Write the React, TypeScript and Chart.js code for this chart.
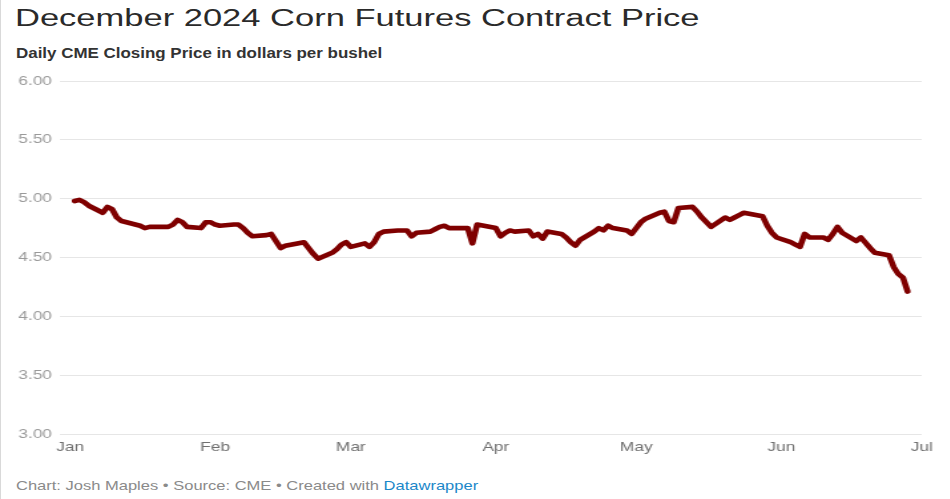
import React, { useEffect, useRef } from "react";
import { Chart, registerables } from "chart.js";

Chart.register(...registerables);

// ---- Data (December 2024 corn futures, daily CME close, $/bu) ----
const janDays = [2, 3, 4, 5, 8, 9, 10, 11, 12, 16, 17, 18, 19, 22, 23, 24, 25, 26, 29, 30, 31];
const janPrices = [4.98, 4.99, 4.97, 4.94, 4.88, 4.93, 4.91, 4.84, 4.81, 4.77, 4.75, 4.76, 4.76, 4.76, 4.78, 4.82, 4.80, 4.76, 4.75, 4.80, 4.80];

const febDays = [1, 2, 5, 6, 7, 8, 9, 12, 13, 14, 15, 16, 20, 21, 22, 23, 26, 27, 28, 29];
const febPrices = [4.78, 4.77, 4.78, 4.78, 4.75, 4.71, 4.68, 4.69, 4.70, 4.64, 4.58, 4.60, 4.63, 4.58, 4.53, 4.49, 4.54, 4.57, 4.61, 4.63];

const marDays = [1, 4, 5, 6, 7, 8, 11, 12, 13, 14, 15, 18, 19, 20, 21, 22, 25, 26, 27, 28];
const marPrices = [4.59, 4.62, 4.59, 4.63, 4.70, 4.72, 4.73, 4.73, 4.73, 4.68, 4.71, 4.72, 4.74, 4.76, 4.77, 4.75, 4.75, 4.75, 4.62, 4.78];

const aprDays = [1, 2, 3, 4, 5, 8, 9, 10, 11, 12, 15, 16, 17, 18, 19, 22, 23, 24, 25, 26, 29, 30];
const aprPrices = [4.75, 4.68, 4.71, 4.73, 4.72, 4.73, 4.68, 4.70, 4.66, 4.72, 4.70, 4.67, 4.63, 4.60, 4.65, 4.72, 4.75, 4.73, 4.77, 4.75, 4.73, 4.70];

const mayDays = [1, 2, 3, 6, 7, 8, 9, 10, 13, 14, 15, 16, 17, 20, 21, 22, 23, 24, 28, 29, 30, 31];
const mayPrices = [4.75, 4.80, 4.83, 4.88, 4.89, 4.81, 4.80, 4.92, 4.93, 4.89, 4.84, 4.80, 4.76, 4.84, 4.82, 4.84, 4.86, 4.88, 4.85, 4.77, 4.71, 4.67];

const junDays = [3, 4, 5, 6, 7, 10, 11, 12, 13, 14, 17, 18, 20, 21, 24, 25, 26, 27, 28];
const junPrices = [4.63, 4.61, 4.59, 4.70, 4.67, 4.67, 4.65, 4.70, 4.76, 4.71, 4.64, 4.67, 4.58, 4.54, 4.52, 4.42, 4.36, 4.33, 4.21];

const monthTickLabels = ["Jan", "Feb", "Mar", "Apr", "May", "Jun", "Jul"];
const monthTickMonths = [0, 1, 2, 3, 4, 5, 6];
const yTicks = [3.0, 3.5, 4.0, 4.5, 5.0, 5.5, 6.0];

const TITLE = "December 2024 Corn Futures Contract Price";
const SUBTITLE = "Daily CME Closing Price in dollars per bushel";

const DAY_MS = 86400000;
const dayOf = (month: number, day: number) =>
  (Date.UTC(2024, month, day) - Date.UTC(2024, 0, 1)) / DAY_MS;

const monthGroups: [number, number[], number[]][] = [
  [0, janDays, janPrices],
  [1, febDays, febPrices],
  [2, marDays, marPrices],
  [3, aprDays, aprPrices],
  [4, mayDays, mayPrices],
  [5, junDays, junPrices],
];

const FONT = "'Liberation Sans', Arial, Helvetica, sans-serif";
const SX = 1.33; // horizontal stretch of the chart
const CANVAS_W = 714;
const CANVAS_H = 410;

function TextLine(props: {
  left: number;
  top: number;
  size: number;
  sx: number;
  weight?: number;
  color: string;
  children: React.ReactNode;
}) {
  return (
    <div
      style={{
        position: "absolute",
        left: props.left,
        top: props.top,
        fontSize: props.size,
        lineHeight: 1,
        fontWeight: props.weight ?? 400,
        color: props.color,
        fontFamily: FONT,
        whiteSpace: "nowrap",
        transform: `scaleX(${props.sx})`,
        transformOrigin: "left top",
      }}
    >
      {props.children}
    </div>
  );
}

export default function App() {
  const canvasRef = useRef<HTMLCanvasElement | null>(null);

  useEffect(() => {
    if (!canvasRef.current) return;
    const points: { x: number; y: number }[] = [];
    monthGroups.forEach(([m, days, prices]) => {
      days.forEach((d, i) => points.push({ x: dayOf(m, d), y: prices[i] }));
    });
    const tickValues = monthTickMonths.map((m) => dayOf(m, 1));
    const xMax = dayOf(6, 1);
    const xMin = -2.14;

    const chart = new Chart(canvasRef.current, {
      type: "line",
      data: {
        datasets: [
          {
            data: points,
            borderColor: "#7f0000",
            borderWidth: 4.6,
            pointRadius: 0,
            tension: 0,
            borderJoinStyle: "round",
            borderCapStyle: "round",
            fill: false,
          },
        ],
      },
      options: {
        responsive: false,
        animation: false,
        devicePixelRatio: 1,
        layout: { padding: { top: 21, right: 21, left: 0, bottom: 0 } },
        plugins: { legend: { display: false }, tooltip: { enabled: false } },
        scales: {
          x: {
            type: "linear",
            min: xMin,
            max: xMax,
            grid: { display: false, drawTicks: false },
            border: { display: false },
            afterBuildTicks: (scale: any) => {
              scale.ticks = tickValues.map((v) => ({ value: v }));
            },
            afterFit: (scale: any) => {
              scale.height = 36;
            },
            ticks: {
              padding: 6,
              autoSkip: false,
              maxRotation: 0,
              color: "#707070",
              font: { family: FONT, size: 13 },
              callback: (v: any) => {
                const idx = tickValues.indexOf(Number(v));
                return idx >= 0 ? monthTickLabels[idx] : "";
              },
            },
          },
          y: {
            min: 3,
            max: 6,
            grid: { color: "#e6e6e6", lineWidth: 1, drawTicks: false },
            border: { display: false },
            afterBuildTicks: (scale: any) => {
              scale.ticks = yTicks.map((v) => ({ value: v }));
            },
            afterFit: (scale: any) => {
              scale.width = 45.1;
            },
            ticks: {
              padding: 6,
              color: "#9a9a9a",
              font: { family: FONT, size: 13 },
              callback: (v: any) => Number(v).toFixed(2),
            },
          },
        },
      },
    } as any);
    return () => chart.destroy();
  }, []);

  return (
    <div
      style={{
        position: "absolute",
        left: 0,
        top: 0,
        width: 950,
        height: 499,
        background: "#ffffff",
        overflow: "hidden",
      }}
    >
      <div style={{ position: "absolute", left: 0, top: 0, width: 1, height: 499, background: "#d9d9d9" }} />
      <TextLine left={15} top={7} size={23} sx={1.5} color="#2a2a2a">
        {TITLE}
      </TextLine>
      <TextLine left={16} top={45.5} size={14} sx={1.21} weight={700} color="#333333">
        {SUBTITLE}
      </TextLine>
      <div
        style={{
          position: "absolute",
          left: 0,
          top: 60,
          width: CANVAS_W,
          height: CANVAS_H,
          transform: `scaleX(${SX})`,
          transformOrigin: "left top",
        }}
      >
        <canvas ref={canvasRef} width={CANVAS_W} height={CANVAS_H} />
      </div>
      <TextLine left={16} top={479} size={13} sx={1.27} color="#8a8a8a">
        Chart: Josh Maples • Source: CME • Created with{" "}
        <span style={{ color: "#1b87c9" }}>Datawrapper</span>
      </TextLine>
    </div>
  );
}
